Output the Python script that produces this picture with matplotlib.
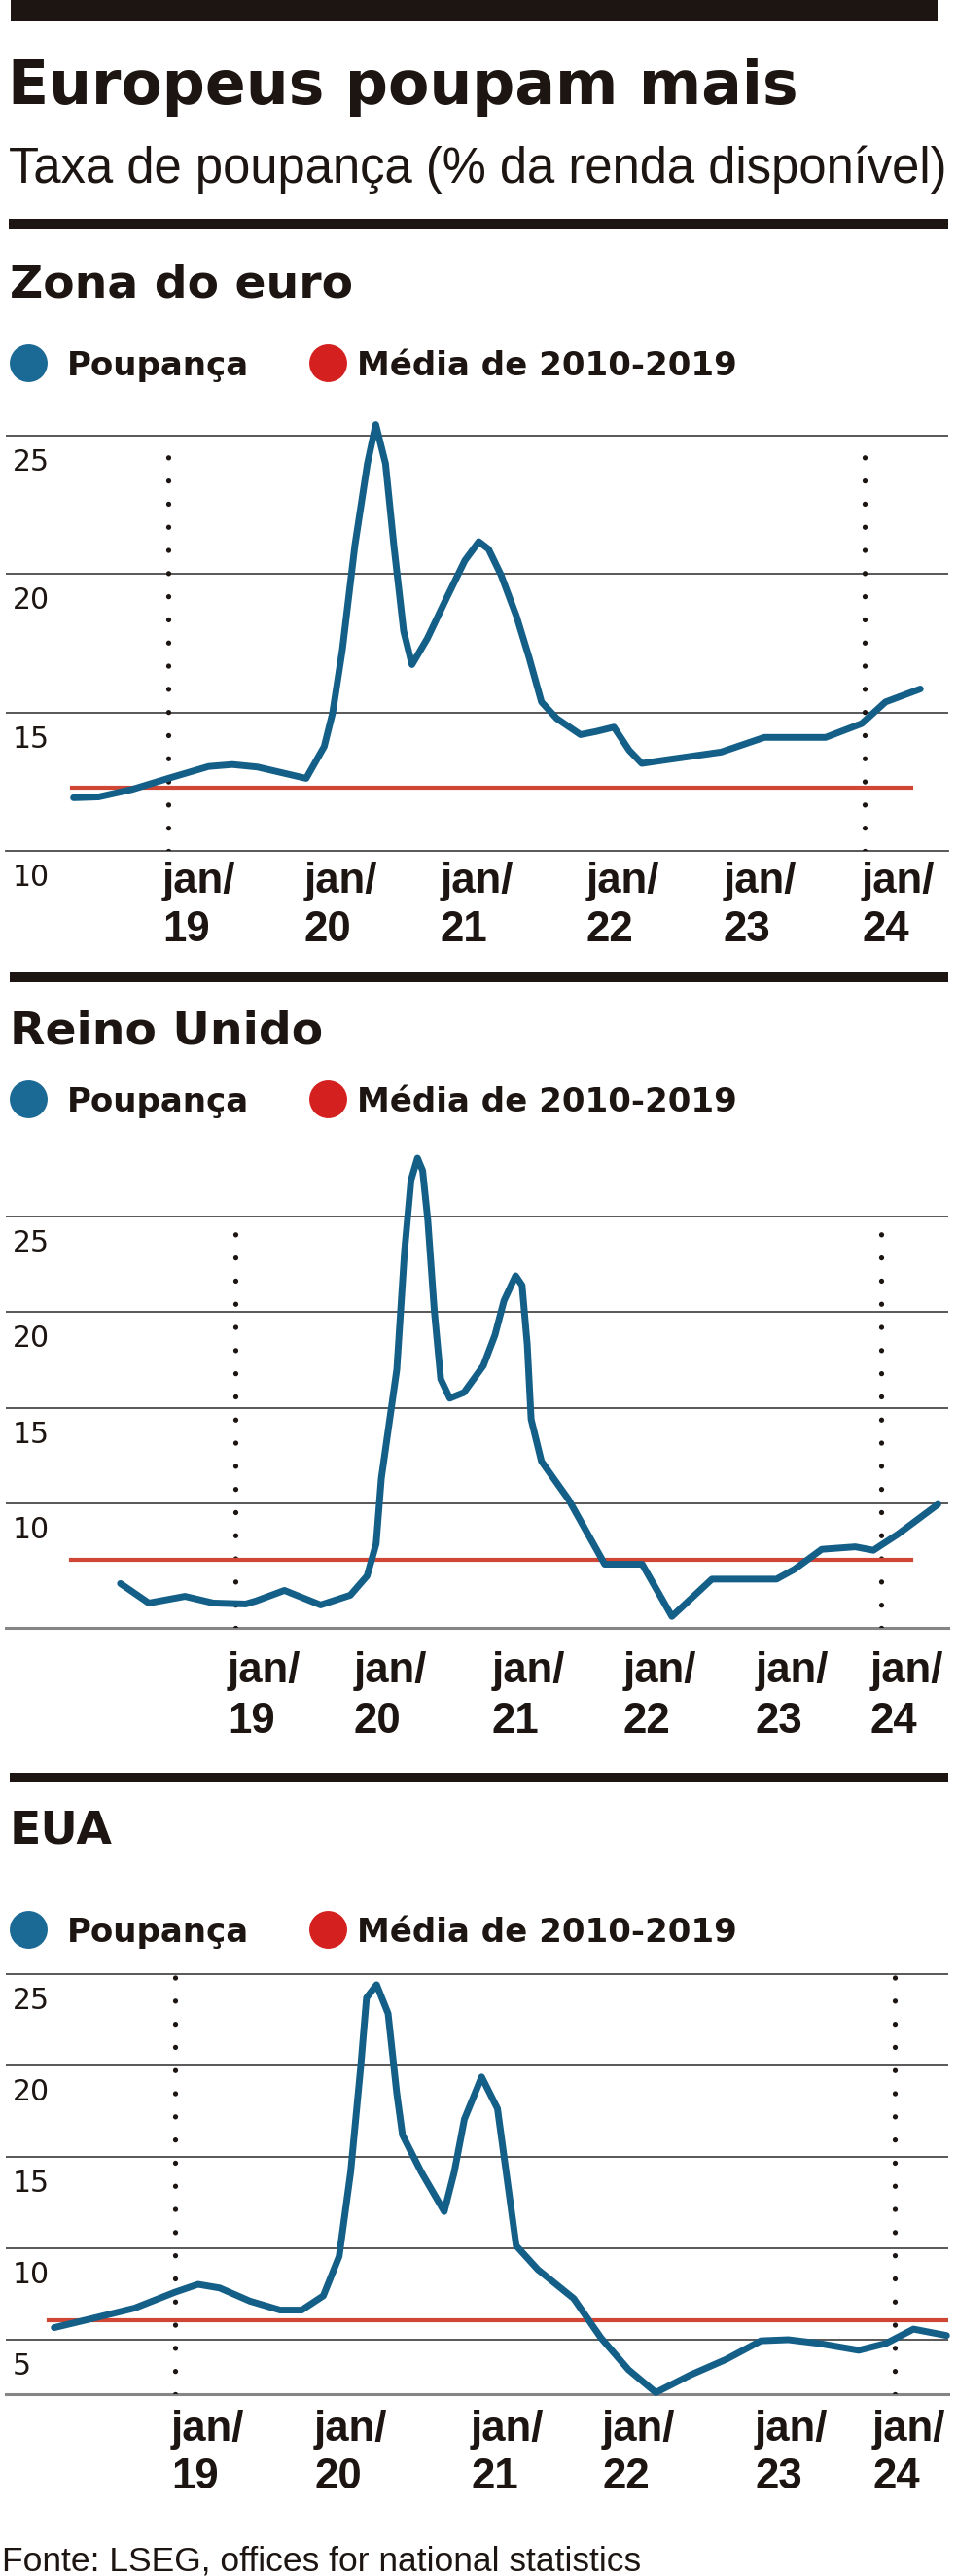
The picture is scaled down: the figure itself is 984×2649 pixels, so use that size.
import matplotlib.pyplot as plt
from matplotlib.patches import Rectangle
from matplotlib.lines import Line2D

# ------------------------------------------------------------------ #
#  data (decimal year, % of disposable income)    #
# ------------------------------------------------------------------ #
ez_t = [2018.32, 2018.50, 2018.74, 2019.00, 2019.29, 2019.46, 2019.64, 2019.99,
        2020.12, 2020.18, 2020.25, 2020.34, 2020.43, 2020.49, 2020.56, 2020.62,
        2020.69, 2020.75, 2020.86, 2021.00, 2021.13, 2021.23, 2021.30, 2021.39,
        2021.50, 2021.59, 2021.68, 2021.79, 2021.96, 2022.07, 2022.20, 2022.31,
        2022.40, 2022.62, 2022.97, 2023.28, 2023.72, 2023.98, 2024.15, 2024.40]
ez_v = [11.92, 11.95, 12.22, 12.62, 13.05, 13.12, 13.03, 12.62,
        13.77, 14.98, 17.26, 21.03, 23.99, 25.40, 23.99, 21.03,
        17.94, 16.73, 17.67, 19.15, 20.49, 21.17, 20.90, 19.96,
        18.48, 17.00, 15.38, 14.78, 14.20, 14.31, 14.47, 13.63,
        13.16, 13.32, 13.57, 14.10, 14.10, 14.60, 15.38, 15.85]

uk_t = [2018.11, 2018.33, 2018.61, 2018.83, 2019.08, 2019.16, 2019.38, 2019.66,
        2019.89, 2020.02, 2020.09, 2020.13, 2020.25, 2020.31, 2020.36, 2020.41,
        2020.45, 2020.49, 2020.54, 2020.59, 2020.66, 2020.77, 2020.92, 2021.01,
        2021.08, 2021.17, 2021.22, 2021.26, 2021.29, 2021.37, 2021.58, 2021.86,
        2022.15, 2022.38, 2022.69, 2023.19, 2023.33, 2023.54, 2023.80, 2023.94,
        2024.13, 2024.44]
uk_v = [5.81, 4.79, 5.14, 4.79, 4.74, 4.90, 5.45, 4.69,
        5.20, 6.21, 7.89, 11.30, 17.00, 23.20, 26.90, 28.05,
        27.40, 24.80, 20.10, 16.50, 15.50, 15.80, 17.20, 18.80,
        20.60, 21.90, 21.40, 18.30, 14.40, 12.20, 10.20, 6.82,
        6.82, 4.09, 6.04, 6.04, 6.56, 7.60, 7.73, 7.55,
        8.39, 9.95]

us_t = [2018.16, 2018.42, 2018.72, 2019.00, 2019.16, 2019.31, 2019.52, 2019.73,
        2019.88, 2020.03, 2020.14, 2020.22, 2020.29, 2020.33, 2020.40, 2020.48,
        2020.54, 2020.58, 2020.71, 2020.87, 2020.94, 2021.01, 2021.13, 2021.24,
        2021.30, 2021.37, 2021.52, 2021.77, 2021.96, 2022.15, 2022.34, 2022.58,
        2022.83, 2023.07, 2023.26, 2023.47, 2023.75, 2023.94, 2024.13, 2024.36]
us_v = [5.66, 6.15, 6.73, 7.60, 8.03, 7.83, 7.11, 6.62,
        6.62, 7.40, 9.56, 14.18, 19.95, 23.70, 24.42, 22.84,
        18.50, 16.20, 14.18, 12.01, 14.18, 17.06, 19.37, 17.64,
        14.18, 10.14, 8.84, 7.25, 5.09, 3.36, 2.11, 3.07,
        3.93, 4.94, 5.00, 4.80, 4.42, 4.80, 5.58, 5.23]

# average 2010-2019
avg_values = [12.3, 7.05, 6.05]

panel_titles = ["Zona do euro", "Reino Unido", "EUA"]
jan_years = [2019, 2020, 2021, 2022, 2023, 2024]
jan_labels = ["19", "20", "21", "22", "23", "24"]
grid_values = [[10, 15, 20, 25], [10, 15, 20, 25], [5, 10, 15, 20, 25]]

title = "Europeus poupam mais"
subtitle = "Taxa de poupança (% da renda disponível)"
legend_labels = ["Poupança", "Média de 2010-2019"]
source = "Fonte: LSEG, offices for national statistics"

BLUE = "#135f88"
BLUE_DOT = "#1b6a96"
RED_DOT = "#d4211f"
RED = "#cf4634"
INK = "#1c1512"
GRID = "#4a4a4a"
BASE = "#858585"

BOLD = "DejaVu Sans"
PLAIN = "Liberation Sans"

# ------------------------------------------------------------------ #
#  page layout in pixels (984 x 2649)                                 #
# ------------------------------------------------------------------ #
W, H = 984, 2649


def fx(px):
    return px / W


def fy(py):
    return 1 - py / H


fig = plt.figure(figsize=(W / 100, H / 100), dpi=100)
fig.patch.set_facecolor("white")


def bar(x0, x1, y0, y1):
    fig.add_artist(Rectangle((fx(x0), fy(y1)), fx(x1) - fx(x0), (y1 - y0) / H,
                             transform=fig.transFigure, color=INK, lw=0))


bar(11, 964, 0, 22)
fig.text(fx(8), fy(107), title, family=BOLD, weight="bold", size=44.5, color=INK,
         va="baseline")
fig.text(fx(9), fy(188), subtitle, family=PLAIN, size=36.5, color=INK, va="baseline")
bar(9, 975, 225, 235)
bar(10, 975, 1000, 1010)
bar(10, 975, 1823, 1833)
fig.text(fx(2), fy(2643), source, family=PLAIN, size=25.5, color=INK, va="baseline")

# per panel: header baseline, legend centre, jan/19 px, jan/24 px,
# 25 gridline px, 10 gridline px, bottom px, top px, red line x-range,
# offsets of the two date lines below the bottom line, date label nudges
panels = [
    dict(head=305, leg=373, j19=173, j24=889, g25=448, g10=875, bottom=875,
         top=395, red=(74, 937), lab=(43, 93), base_label=True,
         nudge=[-3, -1, -4, 3, 1, 0]),
    dict(head=1074, leg=1130, j19=242, j24=906, g25=1251, g10=1546, bottom=1674,
         top=1200, red=(73, 937), lab=(56, 108), base_label=False,
         nudge=[-5, -8, 1, 3, 6, -8]),
    dict(head=1895, leg=1984, j19=180, j24=920, g25=2030, g10=2312, bottom=2462,
         top=2010, red=(50, 975), lab=(48, 97), base_label=False,
         nudge=[-1, -2, 11, -2, 7, -20]),
]
series = [(ez_t, ez_v), (uk_t, uk_v), (us_t, us_v)]

X0, X1 = 6, 975
PX2PT = 0.72

for i, p in enumerate(panels):
    # header + legend
    fig.text(fx(10), fy(p["head"]), panel_titles[i], family=BOLD, weight="bold",
             size=34, color=INK, va="baseline")
    for cx, tx, col, lab in [(29, 69, BLUE_DOT, legend_labels[0]),
                             (337, 367, RED_DOT, legend_labels[1])]:
        fig.add_artist(Line2D([fx(cx)], [fy(p["leg"])], marker="o", markersize=28,
                              color=col, markeredgewidth=0,
                              transform=fig.transFigure))
        fig.text(fx(tx), fy(p["leg"] + 13), lab, family=BOLD, weight="bold",
                 size=24.5, color=INK, va="baseline")

    # axes mapped so that gridlines land on the measured pixels
    ppy = (p["j24"] - p["j19"]) / 5
    ppu = (p["g10"] - p["g25"]) / 15
    xlo = 2019 - (p["j19"] - X0) / ppy
    xhi = 2019 + (X1 - p["j19"]) / ppy
    ylo = 10 - (p["bottom"] - p["g10"]) / ppu
    yhi = 10 + (p["g10"] - p["top"]) / ppu

    ax = fig.add_axes([fx(X0), fy(p["bottom"]), fx(X1) - fx(X0),
                       (p["bottom"] - p["top"]) / H])
    ax.set_xlim(xlo, xhi)
    ax.set_ylim(ylo, yhi)
    ax.axis("off")

    for gv in grid_values[i]:
        if gv > ylo + 0.01:
            ax.axhline(gv, color=GRID, lw=1.3, zorder=1)
        ax.annotate(str(gv), xy=(xlo, gv), xycoords="data",
                    xytext=(7 * PX2PT, -13 * PX2PT), textcoords="offset points",
                    ha="left", va="top", family=BOLD, size=21.5, color=INK)
    ax.axhline(ylo, color=GRID if p["base_label"] else BASE,
               lw=1.3 if p["base_label"] else 2.2, clip_on=False, zorder=1)

    # dotted markers at jan/19 and jan/24
    for yr in (2019, 2024):
        ax.plot([yr, yr], [ylo, 25], color=INK, lw=3.8,
                linestyle=(0, (0.01, 4.5)), dash_capstyle="round", zorder=2)

    # 2010-2019 average
    ax.axhline(avg_values[i], xmin=(p["red"][0] - X0) / (X1 - X0),
               xmax=(p["red"][1] - X0) / (X1 - X0), color=RED, lw=3.0, zorder=3)

    # savings series
    t, v = series[i]
    ax.plot(t, v, color=BLUE, lw=5.0, solid_joinstyle="round",
            solid_capstyle="round", clip_on=False, zorder=4)

    # date labels
    for yr, lab, dx in zip(jan_years, jan_labels, p["nudge"]):
        ax.annotate("jan/", xy=(yr, ylo), xycoords="data",
                    xytext=((dx - 3) * PX2PT, -p["lab"][0] * PX2PT),
                    textcoords="offset points", ha="left", va="baseline",
                    family=PLAIN, weight="bold", size=31.5, color=INK)
        ax.annotate(lab, xy=(yr, ylo), xycoords="data",
                    xytext=((dx - 3) * PX2PT, -p["lab"][1] * PX2PT),
                    textcoords="offset points", ha="left", va="baseline",
                    family=PLAIN, weight="bold", size=31.5, color=INK)

fig.savefig("out.png", dpi=100, facecolor="white")
